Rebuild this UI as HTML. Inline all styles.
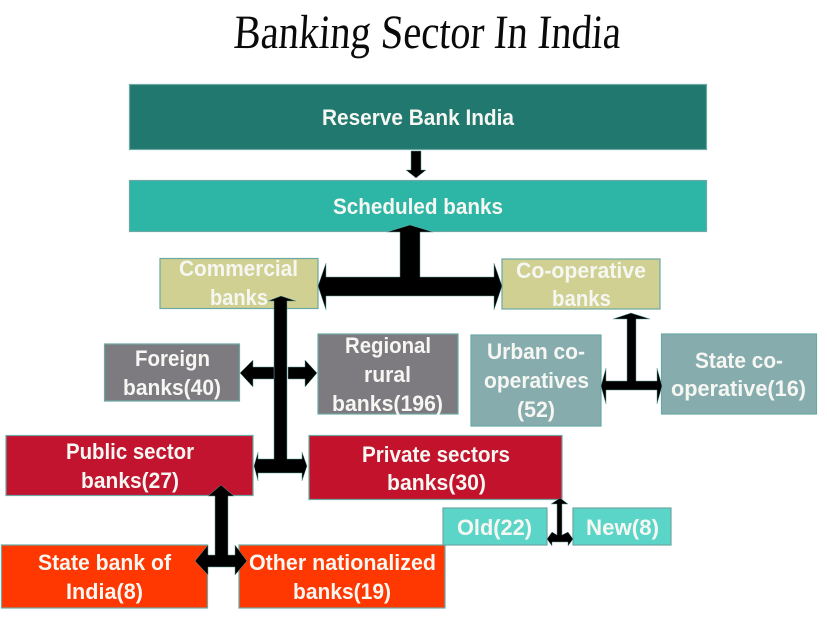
<!DOCTYPE html>
<html>
<head>
<meta charset="utf-8">
<style>
html,body{margin:0;padding:0;background:#fff;width:827px;height:620px;overflow:hidden}
svg{display:block}
.t{font-family:"Liberation Sans",sans-serif;font-weight:700;font-size:22px;fill:#f6f7f2}
.b{stroke:#6aa9a4;stroke-width:1.2}
.a{fill:#000;stroke:#5f9f9a;stroke-width:.5}
</style>
</head>
<body>
<svg width="827" height="620" viewBox="0 0 827 620" xmlns="http://www.w3.org/2000/svg">
<rect width="827" height="620" fill="#fff"/>
<text x="236.400" y="48" transform="skewX(-4)" textLength="387" lengthAdjust="spacingAndGlyphs" font-family="Liberation Serif,serif" font-size="48" fill="#0a0a0a">Banking Sector In India</text>

<rect class="b" x="129.500" y="84.500" width="577" height="65" fill="#20786f"/>
<rect class="b" x="129.500" y="180.500" width="577" height="51" fill="#2db6a6"/>
<rect class="b" x="160" y="258.500" width="158" height="50" fill="#cfd091"/>
<rect class="b" x="502" y="259" width="158" height="50" fill="#cfd091"/>
<rect class="b" x="104.500" y="344" width="135" height="57" fill="#7d7b80"/>
<rect class="b" x="318" y="334" width="140" height="80" fill="#7d7b80"/>
<rect class="b" x="471" y="335" width="130" height="91" fill="#87acae"/>
<rect class="b" x="661.500" y="334" width="155" height="80" fill="#87acae"/>
<rect class="b" x="6" y="435.500" width="247" height="60" fill="#c2132f"/>
<rect class="b" x="309" y="435.500" width="253" height="64" fill="#c2122c"/>
<rect class="b" x="443" y="508" width="104" height="37" fill="#5ad5c8"/>
<rect class="b" x="573" y="508" width="98" height="37" fill="#5ad5c8"/>
<rect class="b" x="1.500" y="545" width="206" height="63" fill="#ff3700"/>
<rect class="b" x="239" y="545" width="206" height="63" fill="#ff3700"/>

<g class="t">
<text x="322" y="125" textLength="192" lengthAdjust="spacingAndGlyphs">Reserve Bank India</text>
<text x="333" y="214" textLength="170" lengthAdjust="spacingAndGlyphs">Scheduled banks</text>
<text x="179" y="276" textLength="119" lengthAdjust="spacingAndGlyphs">Commercial</text>
<text x="210" y="305" textLength="58" lengthAdjust="spacingAndGlyphs">banks</text>
<text x="516" y="278" textLength="130" lengthAdjust="spacingAndGlyphs">Co-operative</text>
<text x="552" y="306" textLength="59" lengthAdjust="spacingAndGlyphs">banks</text>
<text x="135" y="366" textLength="75" lengthAdjust="spacingAndGlyphs">Foreign</text>
<text x="123" y="395" textLength="98" lengthAdjust="spacingAndGlyphs">banks(40)</text>
<text x="345" y="353" textLength="86" lengthAdjust="spacingAndGlyphs">Regional</text>
<text x="364" y="382" textLength="47" lengthAdjust="spacingAndGlyphs">rural</text>
<text x="332" y="411" textLength="111" lengthAdjust="spacingAndGlyphs">banks(196)</text>
<text x="487" y="359" textLength="98" lengthAdjust="spacingAndGlyphs">Urban co-</text>
<text x="484" y="388" textLength="105" lengthAdjust="spacingAndGlyphs">operatives</text>
<text x="517" y="417" textLength="38" lengthAdjust="spacingAndGlyphs">(52)</text>
<text x="695" y="368" textLength="88" lengthAdjust="spacingAndGlyphs">State co-</text>
<text x="671" y="396" textLength="135" lengthAdjust="spacingAndGlyphs">operative(16)</text>
<text x="66" y="459" textLength="128" lengthAdjust="spacingAndGlyphs">Public sector</text>
<text x="81" y="488" textLength="98" lengthAdjust="spacingAndGlyphs">banks(27)</text>
<text x="362" y="462" textLength="148" lengthAdjust="spacingAndGlyphs">Private sectors</text>
<text x="387" y="490" textLength="99" lengthAdjust="spacingAndGlyphs">banks(30)</text>
<text x="457" y="535" textLength="75" lengthAdjust="spacingAndGlyphs">Old(22)</text>
<text x="586" y="535" textLength="73" lengthAdjust="spacingAndGlyphs">New(8)</text>
<text x="38" y="570" textLength="133" lengthAdjust="spacingAndGlyphs">State bank of</text>
<text x="66" y="599" textLength="77" lengthAdjust="spacingAndGlyphs">India(8)</text>
<text x="249" y="570" textLength="187" lengthAdjust="spacingAndGlyphs">Other nationalized</text>
<text x="293" y="599" textLength="98" lengthAdjust="spacingAndGlyphs">banks(19)</text>
</g>

<g class="a">
<!-- RBI to Scheduled -->
<polygon points="411,151 421,151 421,170 426,170 416,178 406,170 411,170"/>
<!-- Scheduled to Commercial/Co-op -->
<polygon points="410,225 433,232 420,232 420,277 494,277 494,263 502,286 494,310 494,296 326,296 326,310 318,286 326,263 326,277 400,277 400,232 387,232"/>
<!-- Commercial to Public/Private -->
<polygon points="281,296 296,301 287,301 287,459 302,459 302,452 307,466 302,481 302,473 258,473 258,481 254,466 258,452 258,459 274,459 274,301 268,301"/>
<!-- Foreign / Regional -->
<polygon points="240,373 253,360 253,367 274,367 274,379 253,379 253,387"/>
<polygon points="317,373 305,360 305,367 288,367 288,379 305,379 305,387"/>
<!-- Public to State/Other -->
<polygon points="221,485 234,496 228,496 228,555 235,555 235,545 247,561 235,575 235,567 208,567 208,575 195,561 208,545 208,555 215,555 215,496 208,496"/>
<!-- Co-op to Urban/State -->
<polygon points="631,313 650,319 636,319 636,381 657,381 657,368 662,386 657,404 657,390 606,390 606,404 601,386 606,368 606,381 627,381 627,319 613,319"/>
<!-- Private to Old/New -->
<polygon points="560,498 568,504 562,504 562,535 568,532 573,539 568,546 568,542 552,542 552,546 547,539 552,532 557,535 557,504 551,504"/>
</g>
</svg>
</body>
</html>
